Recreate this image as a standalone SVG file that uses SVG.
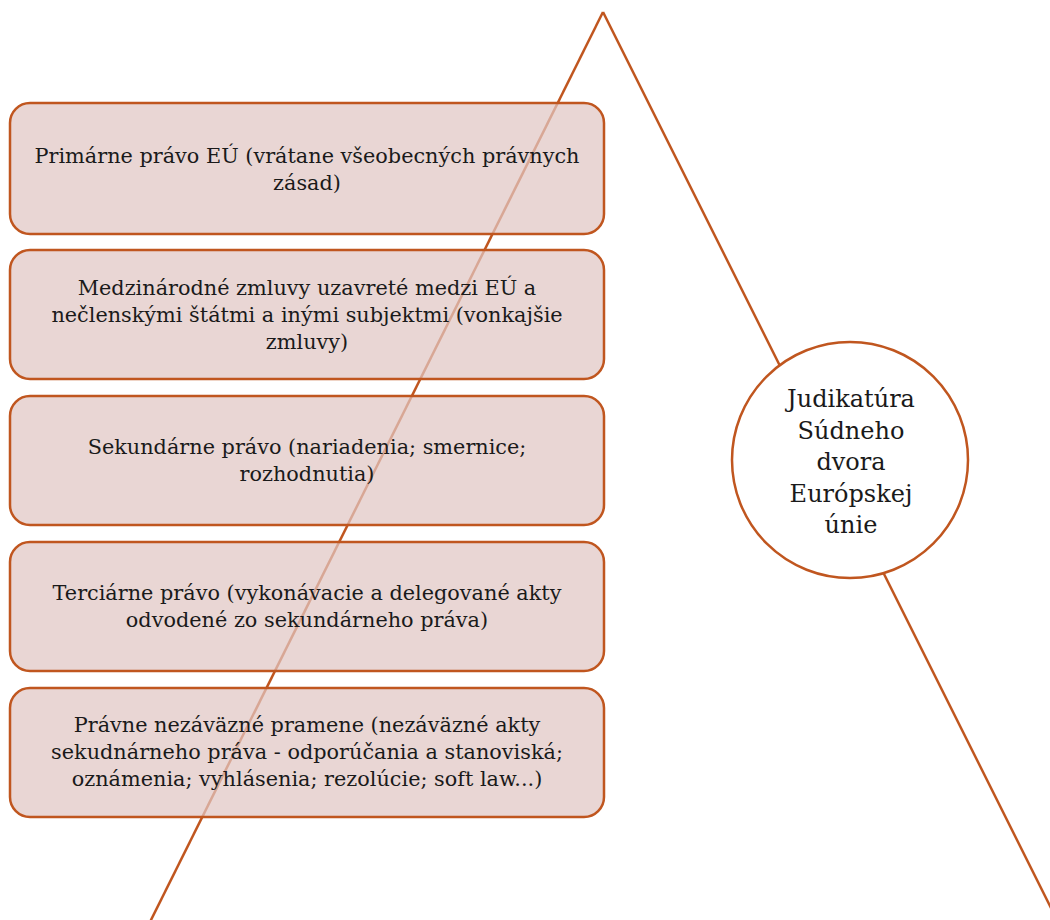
<svg xmlns="http://www.w3.org/2000/svg" width="1050" height="920" viewBox="0 0 1050 920">
  <style>
    .conn { stroke: #c0561f; stroke-width: 2.5; fill: none; }
    .box { fill: #e0c6c3; fill-opacity: 0.72; stroke: #c0561f; stroke-width: 2.5; }
    .circ { fill: #ffffff; stroke: #c0561f; stroke-width: 2.5; }
    .t { font-family: "DejaVu Serif", "Liberation Serif", serif; font-size: 20.8px; fill: #1a1a1a; text-anchor: middle; }
    .tc { font-family: "DejaVu Serif", "Liberation Serif", serif; font-size: 24px; fill: #1a1a1a; text-anchor: middle; }
  </style>
  <rect width="1050" height="920" fill="#ffffff"/>
  <g id="connectors">
    <line class="conn" x1="603" y1="12" x2="150" y2="922"/>
    <line class="conn" x1="603" y1="12" x2="1058" y2="922"/>
  </g>
  <g id="node1">
    <rect class="box" x="10" y="103" width="594" height="131" rx="20" ry="20"/>
    <text class="t" x="307" y="163">Primárne právo EÚ (vrátane všeobecných právnych</text>
    <text class="t" x="307" y="190">zásad)</text>
  </g>
  <g id="node2">
    <rect class="box" x="10" y="250" width="594" height="129" rx="20" ry="20"/>
    <text class="t" x="307" y="295">Medzinárodné zmluvy uzavreté medzi EÚ a</text>
    <text class="t" x="307" y="322">nečlenskými štátmi a inými subjektmi (vonkajšie</text>
    <text class="t" x="307" y="349">zmluvy)</text>
  </g>
  <g id="node3">
    <rect class="box" x="10" y="396" width="594" height="129" rx="20" ry="20"/>
    <text class="t" x="307" y="454">Sekundárne právo (nariadenia; smernice;</text>
    <text class="t" x="307" y="481">rozhodnutia)</text>
  </g>
  <g id="node4">
    <rect class="box" x="10" y="542" width="594" height="129" rx="20" ry="20"/>
    <text class="t" x="307" y="600">Terciárne právo (vykonávacie a delegované akty</text>
    <text class="t" x="307" y="627">odvodené zo sekundárneho práva)</text>
  </g>
  <g id="node5">
    <rect class="box" x="10" y="688" width="594" height="129" rx="20" ry="20"/>
    <text class="t" x="307" y="732">Právne nezáväzné pramene (nezáväzné akty</text>
    <text class="t" x="307" y="759">sekudnárneho práva - odporúčania a stanoviská;</text>
    <text class="t" x="307" y="786">oznámenia; vyhlásenia; rezolúcie; soft law...)</text>
  </g>
  <g id="node6">
    <circle class="circ" cx="850" cy="460" r="118"/>
    <text class="tc" x="851" y="407">Judikatúra</text>
    <text class="tc" x="851" y="439">Súdneho</text>
    <text class="tc" x="851" y="470">dvora</text>
    <text class="tc" x="851" y="502">Európskej</text>
    <text class="tc" x="851" y="533">únie</text>
  </g>
</svg>
